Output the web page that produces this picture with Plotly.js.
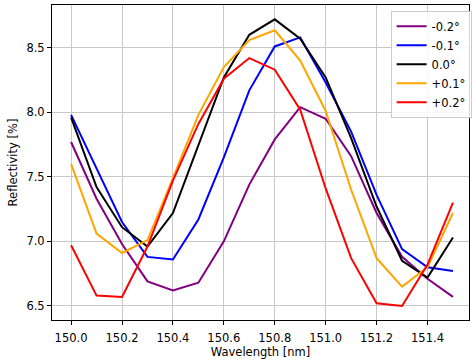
<!DOCTYPE html>
<html>
<head>
<meta charset="utf-8">
<script src="https://cdn.plot.ly/plotly-3.0.1.min.js"></script>
<style>html,body{margin:0;padding:0;background:#fff;}#chart{width:472px;height:360px;}</style>
</head>
<body>
<div id="chart"></div>
<script>
const wavelength = [150.0, 150.1, 150.2, 150.3, 150.4, 150.5, 150.6, 150.7, 150.8, 150.9, 151.0, 151.1, 151.2, 151.3, 151.4, 151.5];
const seriesNames = ["-0.2°", "-0.1°", "0.0°", "+0.1°", "+0.2°"];
const minus02 = [7.77, 7.33, 6.98, 6.69, 6.62, 6.68, 7.00, 7.44, 7.79, 8.04, 7.95, 7.66, 7.22, 6.88, 6.71, 6.57];
const minus01 = [7.98, 7.56, 7.15, 6.88, 6.86, 7.17, 7.65, 8.17, 8.51, 8.58, 8.23, 7.85, 7.36, 6.94, 6.80, 6.77];
const zero00  = [7.96, 7.42, 7.11, 6.96, 7.22, 7.74, 8.27, 8.60, 8.72, 8.57, 8.27, 7.80, 7.27, 6.85, 6.72, 7.03];
const plus01  = [7.60, 7.06, 6.91, 7.01, 7.49, 7.98, 8.35, 8.56, 8.635, 8.40, 8.01, 7.40, 6.87, 6.65, 6.80, 7.22];
const plus02  = [6.97, 6.58, 6.57, 6.96, 7.47, 7.91, 8.26, 8.42, 8.33, 8.02, 7.41, 6.87, 6.52, 6.50, 6.82, 7.30];
const xTicks = [150.0, 150.2, 150.4, 150.6, 150.8, 151.0, 151.2, 151.4];
const yTicks = [6.5, 7.0, 7.5, 8.0, 8.5];

const colors = ["#800080", "#0000ff", "#000000", "#ffa500", "#ff0000"];
const values = [minus02, minus01, zero00, plus01, plus02];

const traces = values.map((v, i) => ({
  x: wavelength, y: v, type: "scatter", mode: "lines",
  name: seriesNames[i], line: {color: colors[i], width: 2}
}));

const font = {family: "DejaVu Sans, sans-serif", size: 11.5, color: "#000"};
const layout = {
  width: 472, height: 360,
  margin: {l: 52, r: 0, t: 5, b: 40},
  paper_bgcolor: "#fff", plot_bgcolor: "#fff",
  font: font,
  showlegend: true,
  legend: {x: 0.812, y: 0.982, xanchor: "left", yanchor: "top",
           bgcolor: "rgba(255,255,255,0.85)", bordercolor: "#cccccc", borderwidth: 1,
           font: font, itemwidth: 30, tracegroupgap: 0},
  xaxis: {range: [149.925, 151.563], tickvals: xTicks, ticktext: xTicks.map(t => t.toFixed(1)),
          showgrid: true, gridcolor: "#c8c8c8", gridwidth: 1, zeroline: false,
          showline: true, linecolor: "#000", linewidth: 1, mirror: true,
          ticks: "outside", ticklen: 4, tickcolor: "#000", ticklabelstandoff: 3,
          title: {text: "Wavelength [nm]", font: font, standoff: 3}},
  yaxis: {range: [6.391, 8.831], tickvals: yTicks, ticktext: yTicks.map(t => t.toFixed(1)),
          showgrid: true, gridcolor: "#c8c8c8", gridwidth: 1, zeroline: false,
          showline: true, linecolor: "#000", linewidth: 1, mirror: true,
          ticks: "outside", ticklen: 4, tickcolor: "#000",
          title: {text: "Reflectivity [%]", font: font, standoff: 6}}
};
Plotly.newPlot("chart", traces, layout, {displayModeBar: false, staticPlot: true});
</script>
</body>
</html>
